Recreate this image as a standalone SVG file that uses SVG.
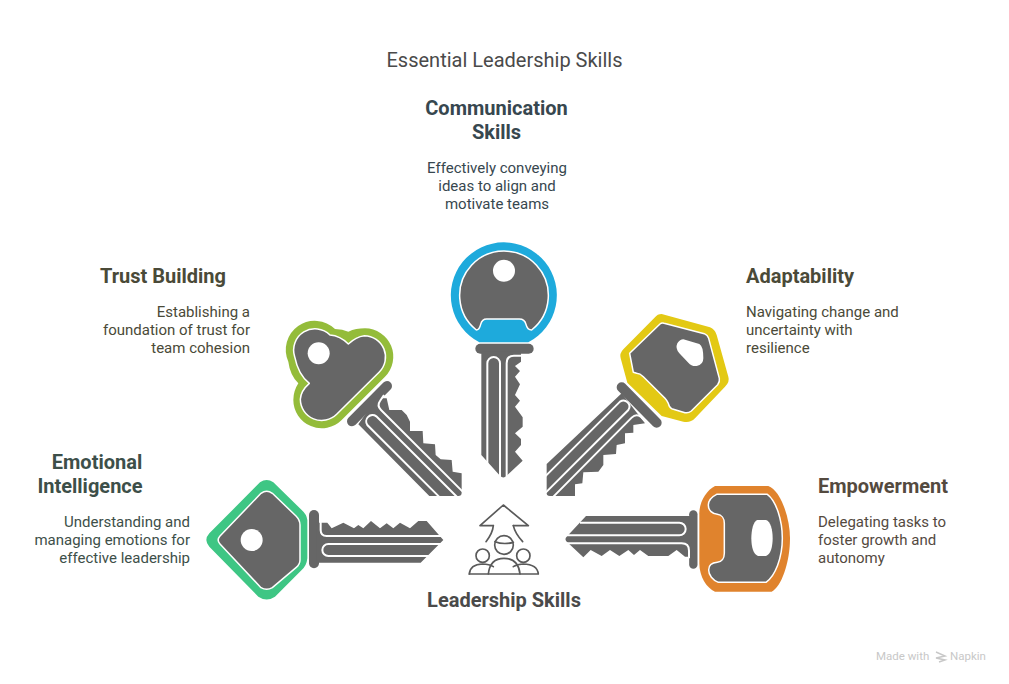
<svg xmlns="http://www.w3.org/2000/svg" width="1009" height="684" viewBox="0 0 1009 684">
<style>
text{font-family:Roboto,"Liberation Sans",sans-serif}
.title{font-size:20px;fill:#4a4a4a;text-anchor:middle}
.h{font-size:20px;font-weight:700}
.b{font-size:15px}
.blue{fill:#37474f}.green1{fill:#3d4f49}.olive{fill:#4a4a38}.brown{fill:#544a3f}
.m{text-anchor:middle}.e{text-anchor:end}
.metal{fill:#666}
.head{fill:#666;stroke:#fff;stroke-width:4.500;stroke-linejoin:round}
.collar{stroke:#666;stroke-width:30;stroke-linecap:round;fill:none}
.cut{fill:none;stroke:#fff;stroke-width:6}
.hole{fill:#fff}
.ico{fill:none;stroke:#5a5a5a;stroke-width:5;stroke-linejoin:round;stroke-linecap:round}
.mark{font-size:11.500px;fill:#c8c8c8}
</style>
<text class="title" x="504.500" y="67">Essential Leadership Skills</text>
<g id="communication">
<text class="h blue m" x="496.500" y="115">Communication</text>
<text class="h blue m" x="496.500" y="139">Skills</text>
<text class="b blue m" x="497" y="173">Effectively conveying</text>
<text class="b blue m" x="497" y="191">ideas to align and</text>
<text class="b blue m" x="497" y="209">motivate teams</text>
<g transform="translate(440 235) scale(.33333)">
<path fill="#1eaadc" d="M118,322A159,159 0 1 1 265,322Z"/>
<line class="collar" x1="121" y1="341" x2="266" y2="341"/>
<path class="metal" d="M124,350V660L180,722Q190,733 200,722L248,677L225,650L243,630V612L225,595L248,575V547L225,515L240,497L225,480L240,448L225,425L240,408L225,393L243,380V350Z"/>
<path class="cut" d="M142,690V385A19,19 0 0 1 180,385V735"/>
<path class="cut" d="M200,735V385Q200,362 222,362H250"/>
<path class="head" d="M109,285A133,133 0 1 1 275,285Q262,285 258,268Q254,252 238,252H140Q126,252 122,268Q118,285 109,285Z"/>
<circle class="hole" cx="192" cy="107" r="33"/>
</g>
</g>
<g id="trust">
<text class="h olive" x="100" y="283">Trust Building</text>
<text class="b olive e" x="250" y="317">Establishing a</text>
<text class="b olive e" x="250" y="335">foundation of trust for</text>
<text class="b olive e" x="250" y="353">team cohesion</text>
<g transform="translate(280 315) scale(.33333)">
<path fill="#94bc3a" d="M205,50Q228,40 255,40A85,85 0 0 1 315,185L185,315A85,85 0 0 1 40,255Q40,228 55,205Q30,180 25,140A87,87 0 0 1 165,42Q188,42 205,50Z"/>
<line class="collar" x1="216" y1="319" x2="321" y2="213"/>
<path class="metal" d="M235,328L448,543H535Q545,543 545,533V475L518,470L515,435L482,433L467,420L465,388L430,385L428,348H390V320L380,300L365,285H328L320,250L290,250Z"/>
<path class="cut" d="M548,530L303,285Q290,272 300,258L312,240"/>
<path class="cut" d="M480,548L262,330A19,19 0 0 1 289,304L535,550"/>
<path class="head" d="M205,87Q228,65 253,62A64,64 0 0 1 298,171L170,298A64,64 0 0 1 61,253Q62,228 88,205Q55,180 44,125A64,64 0 0 1 150,60Q180,62 205,87Z"/>
<circle class="hole" cx="116" cy="115" r="33"/>
</g>
</g>
<g id="adaptability">
<text class="h olive" x="746" y="283">Adaptability</text>
<text class="b olive" x="746" y="317">Navigating change and</text>
<text class="b olive" x="746" y="335">uncertainty with</text>
<text class="b olive" x="746" y="353">resilience</text>
<g transform="translate(540 310) scale(.33333)">
<path fill="#e3c914" d="M345,22Q352,12 365,12L510,52Q525,58 530,75L565,200Q570,215 555,230L465,325Q450,340 430,335L365,318L262,218L242,145Q238,130 250,118Z"/>
<line class="collar" x1="245" y1="232" x2="350" y2="338"/>
<path class="metal" d="M245,250L20,462V545Q18,558 30,558H105V523L127,520L130,487L175,485L190,465V435L228,432L230,405L255,400V370L280,368V345L315,340Z"/>
<path class="cut" d="M15,500L240,275A18,18 0 0 1 265,300L5,560"/>
<path class="cut" d="M38,562L275,323Q288,310 302,320L330,348"/>
<path class="head" d="M269,130L360,42Q365,38 372,40L493,71Q503,75 506,85L538,205Q540,215 533,224L454,303Q445,310 435,308L395,296Q388,293 385,280Q380,270 375,265L310,200Q300,190 290,190L280,187Z"/>
<path class="hole" d="M430,88L478,102Q490,108 490,145Q490,165 470,168Q455,170 445,158L418,130Q405,115 412,100Q420,88 430,88Z"/>
</g>
</g>
<g id="emotional">
<text class="h green1 m" x="97" y="469">Emotional</text>
<text class="h green1 m" x="90" y="493">Intelligence</text>
<text class="b green1 e" x="190" y="527">Understanding and</text>
<text class="b green1 e" x="190" y="545">managing emotions for</text>
<text class="b green1 e" x="190" y="563">effective leadership</text>
<g transform="translate(200 475) scale(.33333)">
<path fill="#3ec684" d="M180,22Q200,8 220,22L305,105Q320,118 322,135V250Q320,272 305,285L225,365Q200,382 175,365L28,215Q10,195 28,175Z"/>
<line class="collar" x1="342" y1="120" x2="342" y2="265"/>
<path class="metal" d="M350,143H382L395,160L430,143L462,160L475,150L490,160L513,138L540,160L560,145L580,160L600,143L630,160L655,138H680L730,195L662,263H350Z"/>
<path class="cut" d="M725,183H380Q362,183 362,165V138"/>
<path class="cut" d="M725,207H385A18,18 0 0 0 385,243H695"/>
<path class="head" d="M183,55Q200,42 217,55L288,123Q300,135 300,150V255Q300,268 288,278L217,338Q200,348 183,338L60,207Q49,195 60,183Z"/>
<circle class="hole" cx="155" cy="195" r="33"/>
</g>
</g>
<g id="empowerment">
<text class="h brown" x="818" y="493">Empowerment</text>
<text class="b brown" x="818" y="527">Delegating tasks to</text>
<text class="b brown" x="818" y="545">foster growth and</text>
<text class="b brown" x="818" y="563">autonomy</text>
<g transform="translate(560 480) scale(.33333)">
<path fill="#e0832d" d="M465,18H625C660,30 690,110 690,175C690,245 665,320 635,335H465C440,325 418,290 418,250V100C418,65 440,30 465,18Z"/>
<line class="collar" x1="400" y1="103" x2="400" y2="254" style="stroke-width:25"/>
<path class="metal" d="M395,108H78L20,170Q12,178 22,187L70,232L92,210L125,228L150,210L178,228L205,210L222,225L240,210L265,228H325L350,210L375,230H395Z"/>
<path class="cut" d="M60,128H358A19,19 0 0 1 358,166H10"/>
<path class="cut" d="M10,190H365Q387,190 387,212V235"/>
<path class="head" d="M470,43H622C648,62 667,120 667,175C667,235 645,288 618,307H475C458,300 446,285 446,270C446,255 458,248 472,247C485,246 493,235 493,220V130C493,115 485,104 472,103C458,102 445,92 445,75C445,60 456,50 470,43Z"/>
<path class="hole" d="M592,120H618C632,124 638,150 638,175C638,200 632,224 618,228H594C580,224 574,200 574,175C574,150 580,124 592,120Z"/>
</g>
</g>
<g id="leadership">
<g transform="translate(460 495) scale(.33333)">
<path class="ico" d="M100,92H60L130,30L205,92H160"/>
<path class="ico" d="M100,92Q98,115 78,140"/>
<path class="ico" d="M160,92Q165,115 188,140"/>
<circle class="ico" cx="132" cy="150" r="28"/>
<path class="ico" d="M105,140Q130,150 160,142"/>
<circle class="ico" cx="68" cy="182" r="20"/>
<circle class="ico" cx="190" cy="182" r="20"/>
<path class="ico" d="M85,237Q90,190 132,190Q175,190 180,237"/>
<path class="ico" d="M28,237H235Q232,208 190,207Q172,207 160,215"/>
<path class="ico" d="M28,237Q30,208 68,207Q88,207 100,215"/>
</g>
<text class="h" x="504" y="607" text-anchor="middle" fill="#4a4a4a">Leadership Skills</text>
</g>
<g id="watermark">
<text class="mark" x="876" y="660">Made with</text>
<path fill="none" stroke="#c8c8c8" stroke-width="1.500" d="M936,652L945,656L936,658L945,660L939,662"/>
<text class="mark" x="950" y="660">Napkin</text>
</g>
</svg>
